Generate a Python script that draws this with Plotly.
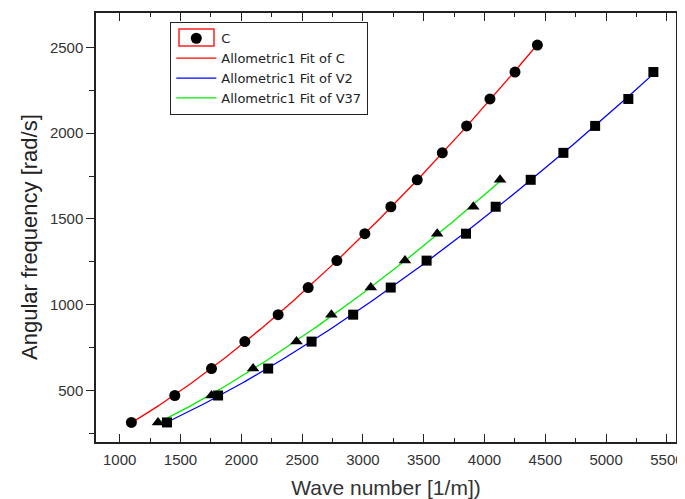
import numpy as np
import plotly.graph_objects as go

# ---- data ----
c_x = [1096, 1453, 1755, 2029, 2303, 2550, 2786, 3016, 3230, 3447, 3653, 3853, 4045, 4251, 4435]
c_y = [314, 471, 628, 785, 942, 1100, 1257, 1414, 1571, 1728, 1885, 2042, 2199, 2356, 2513]

v2_x = [1389, 1809, 2221, 2578, 2920, 3229, 3524, 3848, 4092, 4380, 4649, 4910, 5183, 5389]
v2_y = [314, 471, 628, 785, 942, 1100, 1257, 1414, 1571, 1728, 1885, 2042, 2199, 2356]

v37_x = [1315, 1755, 2097, 2454, 2741, 3065, 3346, 3611, 3908, 4128]
v37_y = [314, 471, 628, 785, 942, 1100, 1257, 1414, 1571, 1728]

x_ticks = [1000, 1500, 2000, 2500, 3000, 3500, 4000, 4500, 5000, 5500]
y_ticks = [500, 1000, 1500, 2000, 2500]

FONT = "Liberation Sans, Arial, sans-serif"
LEGEND_FONT = "DejaVu Sans, Liberation Sans, sans-serif"

# page body has an 8px default margin; figure is sized so the plot lands where the reference has it
W, H = 677, 491
ML, MR, MT, MB = 88, 9, 5, 57


def allometric_fit(xs, ys, n=200):
    xs = np.asarray(xs, float)
    ys = np.asarray(ys, float)
    b, loga = np.polyfit(np.log(xs), np.log(ys), 1)
    xf = np.linspace(xs.min(), xs.max(), n)
    return xf, np.exp(loga) * xf ** b


fig = go.Figure()

for xs, ys, col, name, rank in [
    (c_x, c_y, "#ff0000", "Allometric1 Fit of C", 2),
    (v2_x, v2_y, "#0000ff", "Allometric1 Fit of V2", 3),
    (v37_x, v37_y, "#00ee00", "Allometric1 Fit of V37", 4),
]:
    xf, yf = allometric_fit(xs, ys)
    fig.add_trace(go.Scatter(x=xf, y=yf, mode="lines", name=name, legendrank=rank,
                             line=dict(color=col, width=1.3)))

fig.add_trace(go.Scatter(x=c_x, y=c_y, mode="markers", name="C", legendrank=1,
                         marker=dict(symbol="circle", size=11, color="black")))
fig.add_trace(go.Scatter(x=v2_x, y=v2_y, mode="markers", name="V2", showlegend=False,
                         marker=dict(symbol="square", size=10, color="black")))
fig.add_trace(go.Scatter(x=v37_x, y=v37_y, mode="markers", name="V37", showlegend=False,
                         marker=dict(symbol="triangle-up", size=11, color="black")))

axis_line = dict(showline=True, linecolor="#222", linewidth=1.5, showgrid=False,
                 zeroline=False, automargin=False)

pw = W - ML - MR
ph = H - MT - MB


def px(xp):
    return (xp - 8 - ML) / pw


def py(yp):
    return 1 - (yp - 8 - MT) / ph


fig.update_layout(
    width=W, height=H,
    margin=dict(l=ML, r=MR, t=MT, b=MB, autoexpand=False),
    paper_bgcolor="white", plot_bgcolor="white",
    font=dict(family=FONT, color="#333"),
    showlegend=True,
    legend=dict(x=px(170), y=py(22), xanchor="left", yanchor="top",
                bordercolor="#222", borderwidth=1.3, bgcolor="rgba(0,0,0,0)", itemwidth=40,
                font=dict(family=LEGEND_FONT, size=13, color="#222"), tracegroupgap=0),
    xaxis=dict(range=[805, 5575], tickvals=x_ticks, ticks="inside", ticklen=8, tickwidth=1.3,
               tickcolor="#222", mirror="ticks", tickfont=dict(size=15, color="#333"),
               ticklabelstandoff=3,
               minor=dict(ticks="inside", ticklen=4, tickwidth=1.3, dtick=250, tick0=1000,
                          tickcolor="#222"),
               title=dict(text="Wave number [1/m])", font=dict(size=21, color="#333"), standoff=17),
               **axis_line),
    yaxis=dict(range=[200, 2700], tickvals=y_ticks, ticks="outside", ticklen=8, tickwidth=1.3,
               tickcolor="#222", mirror=True, tickfont=dict(size=15, color="#333"),
               minor=dict(ticks="outside", ticklen=5, tickwidth=1.3, dtick=250, tick0=0,
                          tickcolor="#222"),
               **axis_line),
    yaxis2=dict(range=[200, 2700], overlaying="y", side="right", tickvals=y_ticks,
                ticks="inside", ticklen=7, tickwidth=1.3, tickcolor="#222", showticklabels=False,
                minor=dict(ticks="inside", ticklen=7, tickwidth=1.3, dtick=250, tick0=0,
                           tickcolor="#222"),
                showline=False, showgrid=False, zeroline=False, automargin=False),
    annotations=[dict(text="Angular frequency [rad/s]", xref="paper", yref="paper",
                      x=px(29), y=py(237), xanchor="center", yanchor="middle",
                      textangle=-90, showarrow=False,
                      font=dict(family=FONT, size=22, color="#222"))],
    shapes=[dict(type="rect", xref="paper", yref="paper",
                 x0=px(179), x1=px(214), y0=py(46), y1=py(29),
                 line=dict(color="#ff2020", width=1.5), fillcolor="rgba(0,0,0,0)", layer="above")],
)

fig.write_html("out.html")
